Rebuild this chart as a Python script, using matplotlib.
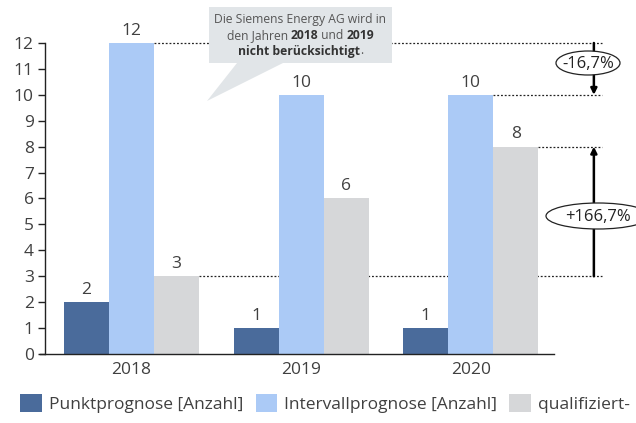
import numpy as np
import matplotlib.pyplot as plt
from matplotlib.patches import Ellipse, Polygon, Rectangle

plt.rcParams['font.family'] = ['Open Sans', 'DejaVu Sans']

years = ['2018', '2019', '2020']
punkt = [2, 1, 1]
intervall = [12, 10, 10]
qualifiziert = [3, 6, 8]
series_labels = ['Punktprognose [Anzahl]', 'Intervallprognose [Anzahl]',
                 'qualifiziert-']
colors = ['#4a6b9b', '#abcaf6', '#d6d7d9']
change_labels = ['-16,7%', '+166,7%']

txt = '#404040'
fig = plt.figure(figsize=(6.36, 4.23), dpi=100)
ax = fig.add_axes([45 / 636, 1 - 354 / 423, 509 / 636, 311 / 423])

x = np.arange(len(years))
w = 0.265
groups = [punkt, intervall, qualifiziert]
for i, (vals, c, lab) in enumerate(zip(groups, colors, series_labels)):
    bars = ax.bar(x + (i - 1) * w, vals, w, color=c, label=lab, zorder=2)
    ax.bar_label(bars, padding=3, fontsize=12.5, color=txt)

ax.set_xlim(-0.51, 2.49)
ax.set_ylim(0, 12)
ax.set_yticks(range(0, 13))
ax.set_xticks(x, years)
ax.tick_params(axis='y', length=5, width=1, colors='#222222', labelcolor=txt,
               labelsize=12.5, pad=3)
ax.tick_params(axis='x', length=0, labelcolor=txt, labelsize=12.5, pad=6)
for s in ['top', 'right']:
    ax.spines[s].set_visible(False)
for s in ['left', 'bottom']:
    ax.spines[s].set_color('#222222')
    ax.spines[s].set_linewidth(1)
ax.spines['bottom'].set_bounds(-0.54, 2.49)
ax.spines['bottom'].set_position(('data', 0))

# reference lines for the changes between 2018 and 2020
x_end = 2.77
ref = [(intervall[0], 0 + w / 2), (intervall[2], 2 + w / 2),
       (qualifiziert[2], 2 + 1.5 * w), (qualifiziert[0], 0 + 1.5 * w)]
for yv, xs in ref:
    ax.plot([xs, x_end], [yv, yv], ls=(0, (1.5, 1.5)), lw=0.9, color='#222222',
            clip_on=False, zorder=1)

xa = 2.725
for y0, y1 in [(intervall[0], intervall[2]), (qualifiziert[0], qualifiziert[2])]:
    ax.annotate('', xy=(xa, y1), xytext=(xa, y0),
                arrowprops=dict(arrowstyle='-|>', lw=1.8, color='black',
                                mutation_scale=9, shrinkA=0, shrinkB=0),
                annotation_clip=False)

# labelled ellipses on the arrows
trans = fig.transFigure
for (cx, cy, ew, eh), lab in zip([(588, 63, 64, 24), (598, 216, 104, 26)],
                                 change_labels):
    e = Ellipse((cx / 636, 1 - cy / 423), ew / 636, eh / 423, transform=trans,
                facecolor='white', edgecolor='#222222', lw=0.9, zorder=5)
    fig.add_artist(e)
    fig.text(cx / 636, 1 - cy / 423 - 0.002, lab, ha='center', va='center',
             fontsize=12, color='#222222', zorder=6)

# callout box with pointer
callout = '#e1e5e8'
fig.add_artist(Rectangle((209 / 636, 1 - 63 / 423), 183 / 636, 56 / 423,
                         transform=trans, facecolor=callout, edgecolor='none',
                         zorder=4))
fig.add_artist(Polygon([(237 / 636, 1 - 63 / 423), (283 / 636, 1 - 63 / 423),
                        (207 / 636, 1 - 101 / 423)], closed=True,
                       transform=trans, facecolor=callout, edgecolor='none',
                       zorder=4))

fig.canvas.draw()
renderer = fig.canvas.get_renderer()


def rich_line(parts, yc, fs=8.7):
    pieces = []
    for s, bold in parts:
        t = fig.text(0, yc, s, fontsize=fs, color='#555555' if not bold else '#333333',
                     weight='bold' if bold else 'normal', va='center', zorder=6)
        pieces.append(t)
    widths = [p.get_window_extent(renderer).width for p in pieces]
    total = sum(widths)
    left = 300.5 - total / 2
    for p, wd in zip(pieces, widths):
        p.set_x(left / 636)
        left += wd


rich_line([('Die Siemens Energy AG wird in', False)], 1 - 20 / 423)
rich_line([('den Jahren ', False), ('2018', True), (' und ', False),
           ('2019', True)], 1 - 35.5 / 423)
rich_line([('nicht berücksichtigt', True), ('.', False)], 1 - 51 / 423)

fig.legend(loc='lower left', bbox_to_anchor=(10 / 636, 0.0), ncol=3,
           frameon=False, fontsize=12.5, handlelength=1.25, handleheight=1.25,
           handletextpad=0.4, columnspacing=0.7, labelcolor=txt,
           borderaxespad=0.2)

fig.savefig('out.png', dpi=100)
